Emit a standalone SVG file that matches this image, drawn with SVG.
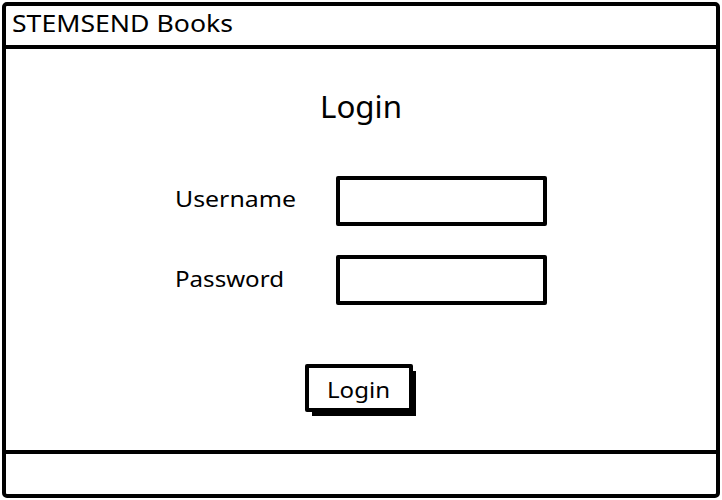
<svg xmlns="http://www.w3.org/2000/svg" width="722" height="500" viewBox="0 0 722 500">
<style>
.frame{fill:#fff;stroke:#000;stroke-width:4;stroke-linejoin:round}
.line{stroke:#000;stroke-width:4;fill:none}
.t{font-family:"Noto Sans","DejaVu Sans",sans-serif;fill:#000;font-weight:400}
</style>
<rect width="722" height="500" fill="#fff"/>
<g id="window">
<rect class="frame" x="4" y="4" width="714" height="492" rx="3"/>
<line class="line" x1="4" y1="47" x2="718" y2="47"/>
<line class="line" x1="4" y1="452" x2="718" y2="452"/>
</g>
<g id="header"><text class="t" x="12" y="32" font-size="23" textLength="221" lengthAdjust="spacingAndGlyphs">STEMSEND Books</text></g>
<g id="title"><text class="t" x="320" y="118" font-size="30" textLength="82" lengthAdjust="spacingAndGlyphs">Login</text></g>
<g id="username-label"><text class="t" x="175" y="207" font-size="22" textLength="121" lengthAdjust="spacingAndGlyphs">Username</text></g>
<g id="password-label"><text class="t" x="175" y="287" font-size="22" textLength="109" lengthAdjust="spacingAndGlyphs">Password</text></g>
<g id="username-input"><rect class="frame" x="338" y="178" width="207" height="46"/></g>
<g id="password-input"><rect class="frame" x="338" y="257" width="207" height="46"/></g>
<g id="login-button">
<rect x="312" y="371" width="104" height="45" fill="#000"/>
<rect class="frame" x="307" y="366" width="104" height="44" stroke-width="3"/>
<text class="t" x="327" y="398" font-size="22" textLength="63" lengthAdjust="spacingAndGlyphs">Login</text>
</g>
<g id="connectors"/>
</svg>
